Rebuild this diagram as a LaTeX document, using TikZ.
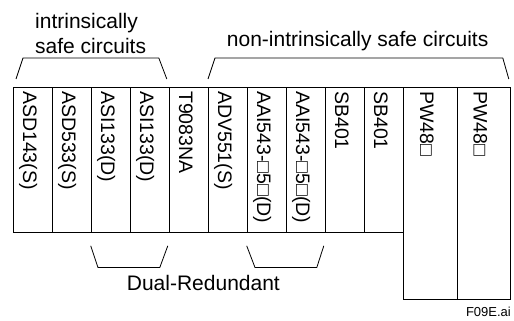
\documentclass[tikz,border=0pt]{standalone}
\usepackage{fontspec}
\setmainfont{Liberation Sans}
\usetikzlibrary{positioning}

\begin{document}
\begin{tikzpicture}[x=1pt, y=-1pt,
    slot/.style={rectangle, draw, line width=0.8pt, minimum width=39pt, minimum height=145pt, anchor=north west, inner sep=0pt},
    pwslot/.style={slot, minimum width=54pt, minimum height=212pt},
    lbl/.style={rotate=-90, anchor=base west, inner sep=0pt, font=\fontsize{19.5}{20}\selectfont},
    txt/.style={inner sep=0pt, font=\fontsize{21}{25}\selectfont},
    brk/.style={line width=0.8pt},
  ]
    \useasboundingbox (0,0) rectangle (514,321);

    \foreach \lab [count=\i from 0] in {ASD143(S),ASD533(S),ASI133(D),ASI133(D),T9083NA,ADV551(S),AAI543-□5□(D),AAI543-□5□(D),SB401,SB401} {
      \node[slot] (s\i) at ({12.7+39*\i},87) {};
      \node[lbl] (l\i) at ([shift={(10.5,4)}]s\i.north west) {\lab};
    }
    \node[pwslot] (pw1) at (402.7,87) {};
    \node[pwslot, minimum width=53.3pt] (pw2) at (456.7,87) {};
    \node[lbl] (lpw1) at ([shift={(17.5,4)}]pw1.north west) {PW48□};
    \node[lbl] (lpw2) at ([shift={(17,4)}]pw2.north west) {PW48□};

    \node[txt, align=left, anchor=north west] (isc) at (35,13) {intrinsically\\safe circuits};
    \node[txt, anchor=base west] (nisc) at (226.7,46.5) {non-intrinsically safe circuits};
    \node[txt, anchor=base west] (dual) at (126.7,290) {Dual-Redundant};
    \node[inner sep=0pt, anchor=base east, font=\fontsize{13}{15}\selectfont] (fig) at (511,316) {F09E.ai};

    \draw[brk] ([shift={(3.3,-8)}]s0.north west) -- ([shift={(10.3,-29)}]s0.north west)
      -- ([shift={(-10.7,-29)}]s3.north east) -- ([shift={(-2.7,-8)}]s3.north east);
    \draw[brk] ([shift={(0.3,-8)}]s5.north west) -- ([shift={(7.3,-29)}]s5.north west)
      -- ([shift={(-8,-29)}]pw2.north east) -- ([shift={(-2,-8)}]pw2.north east);
    \draw[brk] ([shift={(0,13)}]s2.south west) -- ([shift={(7.3,34.7)}]s2.south west)
      -- ([shift={(-9.7,34.7)}]s3.south east) -- ([shift={(-1.7,13)}]s3.south east);
    \draw[brk] ([shift={(0,13)}]s6.south west) -- ([shift={(8.3,34.7)}]s6.south west)
      -- ([shift={(-8.7,34.7)}]s7.south east) -- ([shift={(-1.7,13)}]s7.south east);
  \end{tikzpicture}
\end{document}
